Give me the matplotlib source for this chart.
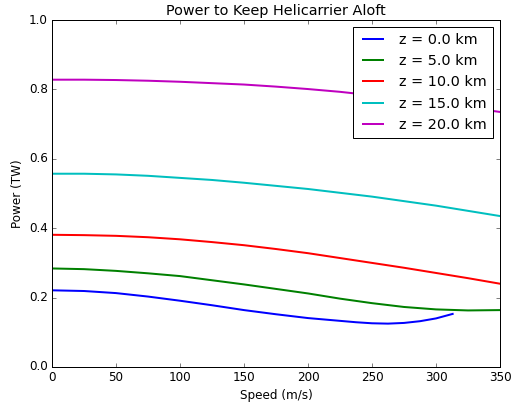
import matplotlib
matplotlib.use('Agg')
import matplotlib.pyplot as plt

plt.style.use('classic')

# speeds (m/s) and power (TW) for each altitude
speed = [0, 25, 50, 75, 100, 125, 150, 175, 200, 225, 250, 275, 300, 325, 350]
speed_z0 = [0, 25, 50, 75, 100, 125, 150, 175, 200, 225, 237.5, 250, 262.5,
            275, 287.5, 300, 313]

p_z0 = [0.221, 0.219, 0.213, 0.203, 0.191, 0.178, 0.164, 0.152, 0.141, 0.133,
        0.129, 0.126, 0.125, 0.127, 0.132, 0.140, 0.153]
p_z5 = [0.284, 0.282, 0.277, 0.270, 0.262, 0.250, 0.238, 0.225, 0.212, 0.197,
        0.184, 0.173, 0.166, 0.163, 0.164]
p_z10 = [0.381, 0.380, 0.378, 0.374, 0.368, 0.360, 0.351, 0.340, 0.328, 0.314,
         0.300, 0.286, 0.271, 0.256, 0.240]
p_z15 = [0.557, 0.557, 0.555, 0.551, 0.545, 0.539, 0.531, 0.522, 0.513, 0.502,
         0.491, 0.478, 0.465, 0.450, 0.435]
p_z20 = [0.828, 0.828, 0.827, 0.825, 0.822, 0.818, 0.814, 0.808, 0.801, 0.793,
         0.783, 0.772, 0.760, 0.748, 0.735]

labels = ['z = 0.0 km', 'z = 5.0 km', 'z = 10.0 km', 'z = 15.0 km', 'z = 20.0 km']

fig = plt.figure(figsize=(516 / 72, 402 / 72), dpi=72, facecolor='white')
ax = fig.add_axes([52 / 516, 35 / 402, 448 / 516, 347 / 402])

ax.plot(speed_z0, p_z0, 'b', lw=2, label=labels[0])
ax.plot(speed, p_z5, 'g', lw=2, label=labels[1])
ax.plot(speed, p_z10, 'r', lw=2, label=labels[2])
ax.plot(speed, p_z15, 'c', lw=2, label=labels[3])
ax.plot(speed, p_z20, 'm', lw=2, label=labels[4])

ax.set_xlim(0, 350)
ax.set_ylim(0, 1.0)
ax.set_xticks(range(0, 351, 50))
ax.set_yticks([0.0, 0.2, 0.4, 0.6, 0.8, 1.0])
ax.set_xlabel('Speed (m/s)', fontsize=12)
ax.set_ylabel('Power (TW)', fontsize=12)
ax.set_title('Power to Keep Helicarrier Aloft', fontsize=14.4)
ax.legend(loc='upper right', fontsize=14.4)

fig.savefig('out.png', dpi=72, facecolor='white')
